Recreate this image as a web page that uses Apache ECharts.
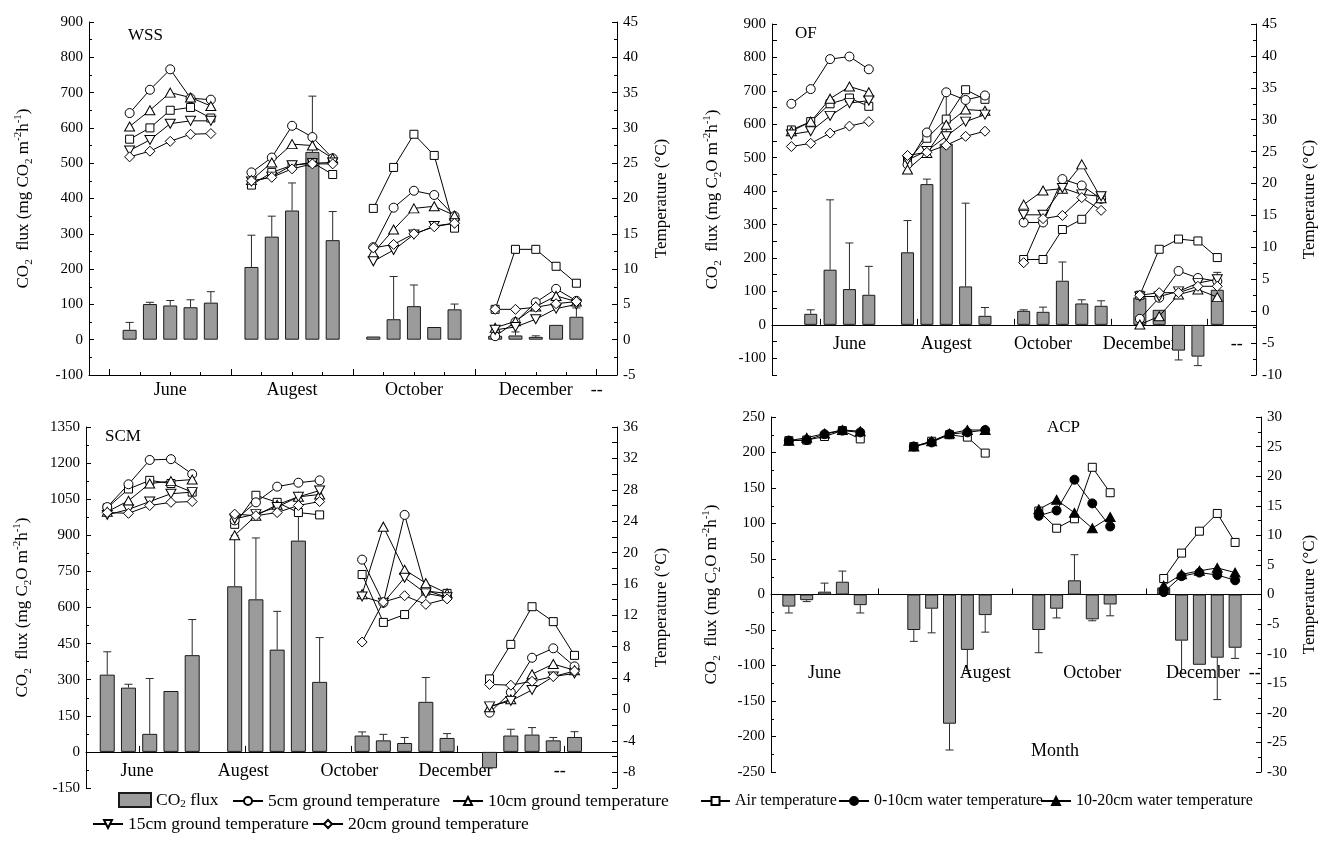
<!DOCTYPE html>
<html><head><meta charset="utf-8">
<script src="https://cdn.jsdelivr.net/npm/echarts@6/dist/echarts.min.js"></script>
<style>html,body{margin:0;padding:0;background:#fff}#c{width:1322px;height:847px}</style>
</head><body><div id="c"></div>
<script>
const FONT = 'Liberation Serif';
// sampling slots (5 samplings per month)
const slotsStd = [0,1,2,3,4, 6,7,8,9,10, 12,13,14,15,16, 18,19,20,21,22];
const slotsACP = [0,1,2,3,4, 7,8,9,10,11, 14,15,16,17,18, 21,22,23,24,25];
const monthLabels = ['June','Augest','October','December','--'];

// ---- WSS ----
const WSS_flux = [28,101,97,92,105, 206,292,366,532,282, 9,58,95,36,86, 11,12,8,42,65];
const WSS_sd   = [21,5,14,21,31, 90,58,78,158,81, 0,121,60,0,15, 0,10,3,0,25];
const WSS_t5   = [32.1,35.4,38.3,34.2,34.0, 23.7,25.8,30.3,28.7,25.7, 13.1,18.7,21.1,20.5,17.5, 0.5,2.5,5.3,7.2,5.5];
const WSS_t10  = [30.2,32.5,35.0,34.3,33.1, 22.6,25.1,27.7,27.5,25.7, 12.3,15.6,18.6,18.9,17.6, 1.7,2.6,4.7,6.2,5.4];
const WSS_t15  = [26.8,28.3,30.6,31.0,31.0, 22.4,23.1,24.7,25.0,25.1, 11.1,12.7,14.9,16.1,16.5, 1.4,1.8,2.9,4.4,5.0];
const WSS_t20  = [25.9,26.7,28.1,29.1,29.2, 22.5,23.0,24.2,24.9,24.9, 13.0,13.5,15.0,16.0,16.5, 4.3,4.3,4.6,5.1,5.4];
const WSS_air  = [28.4,30.0,32.5,32.9,31.4, 21.9,23.7,24.7,25.1,23.4, 18.6,24.4,29.1,26.1,15.8, 4.3,12.8,12.8,10.4,8.0];

// ---- OF ----
const OF_flux = [null,33,165,107,90, 217,421,542,115,27, 42,39,132,64,57, 82,45,-77,-95,105];
const OF_sd   = [0,12,209,138,85, 95,15,153,249,25, 3,14,56,11,15, 0,0,28,27,52];
const OF_t5   = [32.5,34.8,39.5,39.9,37.9, 23.0,28.0,34.3,33.1,33.8, 13.9,13.9,20.7,19.7,17.6, -1.2,2.1,6.3,5.2,4.7];
const OF_t10  = [28.2,29.7,33.3,35.2,34.3, 22.2,24.8,29.2,31.6,31.4, 16.7,18.9,19.2,23.0,17.7, -2.1,-0.8,2.6,3.4,2.2];
const OF_t15  = [27.7,28.2,30.6,32.6,33.0, 23.7,25.1,27.4,29.7,30.8, 15.1,15.1,19.3,18.3,18.0, 2.3,2.3,3.1,4.4,5.0];
const OF_t20  = [25.8,26.3,27.9,29.0,29.7, 24.4,24.9,26.0,27.4,28.2, 7.6,14.5,15.0,17.8,15.8, 2.5,2.9,2.9,3.9,3.9];
const OF_air  = [28.4,29.7,32.5,33.4,32.1, 23.5,27.1,30.1,34.7,33.2, 8.1,8.1,12.8,14.4,18.0, 2.5,9.7,11.3,11.0,8.4];

// ---- SCM ----
const SCM_flux = [321,267,75,253,402, 688,634,425,878,291, 68,48,37,208,58, -68,68,72,48,62];
const SCM_sd   = [95,14,230,0,148, 212,255,159,122,184, 15,25,23,101,18, 0,26,29,12,22];
const SCM_t5   = [25.8,28.7,31.8,31.9,30.0, 24.1,26.4,28.4,28.9,29.2, 19.1,13.6,24.8,15.2,14.3, -0.4,2.2,6.6,7.8,5.5];
const SCM_t10  = [25.2,26.6,28.8,29.1,29.3, 22.2,24.7,26.1,27.1,27.4, 14.7,23.3,17.8,16.1,14.8, 0.3,1.3,4.5,5.8,5.0];
const SCM_t15  = [24.8,25.5,26.5,27.5,27.7, 24.3,24.9,25.8,27.1,27.9, 14.4,13.6,16.8,14.8,14.3, 0.4,1.1,2.5,4.2,4.6];
const SCM_t20  = [25.1,25.0,26.0,26.4,26.5, 24.9,24.7,25.1,26.0,26.5, 8.6,13.7,14.5,13.4,14.1, 3.2,3.1,3.6,4.2,4.9];
const SCM_air  = [25.7,28.1,29.2,28.8,27.7, 23.6,27.3,26.4,25.1,24.8, 17.2,11.1,12.1,15.1,14.8, 3.9,8.3,13.1,11.2,6.9];

// ---- ACP ----
const ACP_flux  = [-17,-8,4,18,-15, -50,-20,-182,-78,-29, -50,-20,20,-35,-14, 10,-65,-99,-89,-75];
const ACP_sd    = [9,2,12,15,11, 16,34,37,29,24, 32,13,36,2,16, 0,46,0,59,15];
const ACP_air   = [26.0,26.1,26.7,27.7,26.3, 25.0,25.9,27.0,26.6,23.9, 14.1,11.2,12.8,21.5,17.2, 2.7,7.0,10.7,13.7,8.8];
const ACP_w010  = [26.0,26.1,27.1,27.7,27.4, 25.0,25.7,27.1,27.4,27.8, 13.3,14.2,19.4,15.4,11.5, 0.4,3.1,3.7,3.3,2.4];
const ACP_w1020 = [26.0,26.5,27.2,27.8,27.6, 25.0,25.9,27.2,27.8,27.8, 14.4,16.0,13.8,11.2,13.1, 1.5,3.4,4.0,4.5,3.7];

const N5 = '5cm ground temperature', N10 = '10cm ground temperature', N15 = '15cm ground temperature',
      N20 = '20cm ground temperature', NAIR = 'Air temperature', NW1 = '0-10cm water temperature', NW2 = '10-20cm water temperature',
      NFLUX = 'CO2 flux';

const symStyle = {};
symStyle[N5]   = {symbol:'circle', size:9, fill:'#fff', rot:0};
symStyle[N10]  = {symbol:'triangle', size:[10,9], fill:'#fff', rot:0};
symStyle[N15]  = {symbol:'triangle', size:[10,9], fill:'#fff', rot:180};
symStyle[N20]  = {symbol:'diamond', size:[10,10], fill:'#fff', rot:0};
symStyle[NAIR] = {symbol:'rect', size:8, fill:'#fff', rot:0};
symStyle[NW1]  = {symbol:'circle', size:9, fill:'#000', rot:0};
symStyle[NW2]  = {symbol:'triangle', size:[10,9], fill:'#000', rot:0};

const nameWSS = 'CO{sub|2}  flux (mg CO{sub|2} m{sup|-2}h{sup|-1})';
const nameOth = 'CO{sub|2}  flux (mg C{sub|2}O m{sup|-2}h{sup|-1})';

const panels = [
  {title:'WSS', tl:[128,27], grid:{left:89, top:22, width:528, height:353}, slots:slotsStd, xMin:-2, xMax:24,
   flux:WSS_flux, sd:WSS_sd, barW:14,
   temps:[[NAIR,WSS_air],[N5,WSS_t5],[N10,WSS_t10],[N15,WSS_t15],[N20,WSS_t20]],
   yL:{min:-100,max:900,interval:100,every:100,minor:true}, yR:{min:-5,max:45,interval:5,every:5,minor:true},
   onZero:false, major:[-1,5,11,17,23], minor:[0.5,2,3.5,6.5,8,9.5,12.5,14,15.5,18.5,20,21.5],
   labelPos:[2,8,14,20,23], labelMargin:6, lname:nameWSS, lgap:54, rgap:34},
  {title:'OF', tl:[795,25], grid:{left:772, top:24, width:489, height:351}, slots:slotsStd, xMin:-1, xMax:24,
   flux:OF_flux, sd:OF_sd, barW:13,
   temps:[[NAIR,OF_air],[N5,OF_t5],[N10,OF_t10],[N15,OF_t15],[N20,OF_t20]],
   yL:{min:-150,max:900,interval:50,every:100,minor:false}, yR:{min:-10,max:45,interval:5,every:5,minor:true},
   onZero:true, major:[1.5,6.5,11.5,16.5,21.5], minor:[4,9,14,19],
   labelPos:[3,8,13,18,23], labelMargin:10, lname:nameOth, lgap:48, rgap:43},
  {title:'SCM', tl:[105,428], grid:{left:86, top:427, width:531, height:361}, slots:slotsStd, xMin:-1, xMax:24,
   flux:SCM_flux, sd:SCM_sd, barW:15,
   temps:[[NAIR,SCM_air],[N5,SCM_t5],[N10,SCM_t10],[N15,SCM_t15],[N20,SCM_t20]],
   yL:{min:-150,max:1350,interval:150,every:150,minor:true}, yR:{min:-10,max:36,interval:2,every:4,minor:false},
   onZero:true, major:[1.5,6.5,11.5,16.5,21.5], minor:[4,9,14,19],
   labelPos:[1.4,6.4,11.4,16.4,21.3], labelMargin:10, lname:nameOth, lgap:52, rgap:34},
  {title:'ACP', tl:[1047,419], grid:{left:771, top:417, width:496, height:355}, slots:slotsACP, xMin:-1, xMax:26.45,
   flux:ACP_flux, sd:ACP_sd, barW:13,
   temps:[[NAIR,ACP_air],[NW1,ACP_w010],[NW2,ACP_w1020]],
   yL:{min:-250,max:250,interval:50,every:50,minor:true}, yR:{min:-30,max:30,interval:5,every:5,minor:true},
   onZero:true, major:[5,12.5,20], minor:[],
   labelPos:[2,11,17,23.2,26.1], labelMargin:70, lname:nameOth, lgap:48, rgap:38}
];

const grids = [], xAxes = [], yAxes = [], series = [], titles = [];
const axisText = {color:'#000', fontFamily:FONT, fontSize:15};
const nameRich = {
  sub:{fontSize:11, verticalAlign:'bottom', lineHeight:22, fontFamily:FONT, color:'#000'},
  sup:{fontSize:11, verticalAlign:'top', lineHeight:22, fontFamily:FONT, color:'#000'}
};

function withBreaks(sl, vals) {
  const out = [];
  for (let i = 0; i < sl.length; i++) {
    if (i > 0 && sl[i] - sl[i-1] > 1) out.push([(sl[i] + sl[i-1]) / 2, '-']);
    out.push([sl[i], vals[i] == null ? '-' : vals[i]]);
  }
  return out;
}

panels.forEach((p, k) => {
  grids.push(Object.assign({containLabel:false}, p.grid));
  titles.push({text:p.title, left:p.tl[0], top:p.tl[1], padding:0,
    textStyle:{fontFamily:FONT, fontSize:17, fontWeight:'normal', color:'#000'}});
  const lineSt = {color:'#000', width:1};
  // x axis drawn on the flux zero line (offset derived from left-axis scale)
  const zeroOff = p.onZero ? p.grid.height * (0 - p.yL.min) / (p.yL.max - p.yL.min) : 0;
  xAxes.push({gridIndex:k, type:'value', min:p.xMin, max:p.xMax, position:'bottom', offset:-zeroOff,
    axisLine:{show:true, onZero:false, lineStyle:lineSt},
    axisTick:{show:true, inside:true, length:6, customValues:p.major, lineStyle:lineSt},
    axisLabel:{show:true, customValues:p.labelPos, margin:p.labelMargin, color:'#000', fontFamily:FONT, fontSize:18,
      formatter: v => { const i = p.labelPos.findIndex(q => Math.abs(q - v) < 1e-6); return i >= 0 ? monthLabels[i] : ''; }},
    splitLine:{show:false}});
  xAxes.push({gridIndex:k, type:'value', min:p.xMin, max:p.xMax, position:'bottom', offset:-zeroOff,
    axisLine:{show:false, onZero:false},
    axisTick:{show:p.minor.length > 0, inside:true, length:3, customValues:p.minor.length ? p.minor : [p.xMin], lineStyle:lineSt},
    axisLabel:{show:false}, splitLine:{show:false}});
  const mkY = (c, pos, name, gap) => ({gridIndex:k, type:'value', position:pos, min:c.min, max:c.max, interval:c.interval,
    name:name, nameLocation:'middle', nameGap:gap, nameRotate:90,
    nameTextStyle:{fontFamily:FONT, fontSize:17, color:'#000', lineHeight:22, rich:nameRich},
    axisLine:{show:true, onZero:false, lineStyle:lineSt},
    axisTick:{show:true, inside:true, length:5, lineStyle:lineSt},
    minorTick:{show:c.minor, splitNumber:2, length:3, lineStyle:lineSt},
    axisLabel:Object.assign({margin:6, formatter: v => (Math.abs(Math.round(v / c.every) * c.every - v) < 1e-6 ? String(v) : '')}, axisText),
    splitLine:{show:false}, minorSplitLine:{show:false}});
  yAxes.push(mkY(p.yL, 'left', p.lname, p.lgap));
  yAxes.push(mkY(p.yR, 'right', 'Temperature (°C)', p.rgap));

  const xi = 2 * k, yl = 2 * k, yr = 2 * k + 1;
  series.push({type:'bar', name:NFLUX, xAxisIndex:xi, yAxisIndex:yl, barWidth:p.barW,
    data:p.slots.map((s, i) => [s, p.flux[i] == null ? '-' : p.flux[i]]),
    itemStyle:{color:'#9b9b9b', borderColor:'#1a1a1a', borderWidth:1}, z:2});
  series.push({type:'custom', name:'err', xAxisIndex:xi, yAxisIndex:yl, z:3,
    data:p.slots.map((s, i) => p.sd[i] > 0 && p.flux[i] != null ? [s, p.flux[i], p.flux[i] + Math.sign(p.flux[i]) * p.sd[i]] : null).filter(d => d),
    encode:{x:0, y:[1,2]},
    renderItem:(params, api) => {
      const x = api.value(0), a = api.coord([x, api.value(1)]), b = api.coord([x, api.value(2)]);
      const st = {stroke:'#2a2a2a', lineWidth:1};
      return {type:'group', children:[
        {type:'line', shape:{x1:a[0], y1:a[1], x2:b[0], y2:b[1]}, style:st},
        {type:'line', shape:{x1:b[0]-4, y1:b[1], x2:b[0]+4, y2:b[1]}, style:st}]};
    }});
  p.temps.forEach(([nm, vals]) => {
    const s = symStyle[nm];
    series.push({type:'line', name:nm, xAxisIndex:xi, yAxisIndex:yr, data:withBreaks(p.slots, vals),
      connectNulls:false, symbol:s.symbol, symbolSize:s.size, symbolRotate:s.rot, showAllSymbol:true,
      lineStyle:{color:'#000', width:1}, itemStyle:{color:s.fill, borderColor:'#000', borderWidth:1}, z:4});
  });
});

titles.push({text:'Month', left:1031, top:742, padding:0, textStyle:{fontFamily:FONT, fontSize:18, fontWeight:'normal', color:'#000'}});

const mkLegText = fs => ({fontFamily:FONT, fontSize:fs, color:'#000', lineHeight:20,
  rich:{s:{fontSize:Math.round(fs * 0.62), verticalAlign:'bottom', lineHeight:20, fontFamily:FONT, color:'#000'}}});
const legendItems = [
  {name:NFLUX, left:118, top:790, w:32, h:14, fs:17.5},
  {name:N5,   left:232, top:791, w:30, h:10, fs:17.5},
  {name:N10,  left:452, top:791, w:30, h:10, fs:17.5},
  {name:N15,  left:92,  top:814, w:30, h:10, fs:17.5},
  {name:N20,  left:312, top:814, w:30, h:10, fs:17.5},
  {name:NAIR, left:700, top:791, w:29, h:10, fs:16},
  {name:NW1,  left:838, top:791, w:30, h:10, fs:16},
  {name:NW2,  left:1040, top:791, w:30, h:10, fs:16}
];
const legends = legendItems.map(l => ({
  data:[l.name === NFLUX ? {name:l.name, icon:'rect'} : l.name], left:l.left, top:l.top, itemWidth:l.w, itemHeight:l.h,
  padding:0, orient:'horizontal', selectedMode:false, textStyle:mkLegText(l.fs),
  formatter: n => n === NFLUX ? 'CO{s|2} flux' : n
}));

const chart = echarts.init(document.getElementById('c'), null, {renderer:'canvas'});
chart.setOption({
  animation:false, backgroundColor:'#fff',
  textStyle:{fontFamily:FONT},
  title:titles, grid:grids, xAxis:xAxes, yAxis:yAxes, legend:legends, series:series
});
</script></body></html>
